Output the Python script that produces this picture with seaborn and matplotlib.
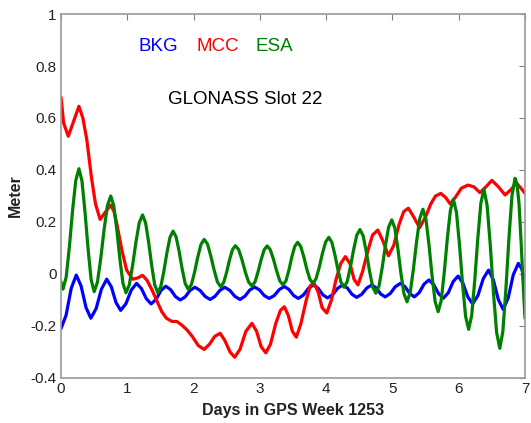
import numpy as np
import pandas as pd
import matplotlib
matplotlib.use("Agg")
import matplotlib.pyplot as plt
import seaborn as sns

# values (days, meters)
bkg_days = [0.00, 0.077, 0.153, 0.23, 0.303, 0.377, 0.45, 0.53, 0.61, 0.69, 0.76, 0.83, 0.90,
            0.98, 1.06, 1.14, 1.213, 1.287, 1.36, 1.433, 1.507, 1.58, 1.653, 1.727, 1.80,
            1.873, 1.947, 2.02, 2.097, 2.173, 2.25, 2.323, 2.397, 2.47, 2.547, 2.623, 2.70,
            2.773, 2.847, 2.92, 2.993, 3.067, 3.14, 3.217, 3.293, 3.37, 3.44, 3.51, 3.58,
            3.657, 3.733, 3.81, 3.88, 3.95, 4.02, 4.097, 4.173, 4.25, 4.32, 4.39, 4.46,
            4.537, 4.613, 4.69, 4.757, 4.823, 4.89, 4.967, 5.043, 5.12, 5.19, 5.26, 5.33,
            5.403, 5.477, 5.55, 5.623, 5.697, 5.77, 5.843, 5.917, 5.99, 6.063, 6.137, 6.21,
            6.29, 6.37, 6.45, 6.523, 6.597, 6.67, 6.747, 6.823, 6.90, 6.95, 7.00]
bkg_vals = [-0.21, -0.158, -0.056, -0.004, -0.046, -0.129, -0.17, -0.133, -0.058, -0.02, -0.05, -0.11, -0.14,
            -0.114, -0.062, -0.036, -0.056, -0.095, -0.115, -0.098, -0.064, -0.047, -0.06, -0.087, -0.10,
            -0.088, -0.063, -0.051, -0.063, -0.086, -0.098, -0.086, -0.063, -0.051, -0.063, -0.086, -0.098,
            -0.086, -0.062, -0.05, -0.061, -0.083, -0.094, -0.083, -0.06, -0.048, -0.06, -0.083, -0.094,
            -0.081, -0.055, -0.042, -0.055, -0.08, -0.092, -0.08, -0.055, -0.042, -0.054, -0.078, -0.09,
            -0.078, -0.054, -0.042, -0.054, -0.077, -0.088, -0.075, -0.049, -0.036, -0.049, -0.075, -0.088,
            -0.072, -0.039, -0.023, -0.041, -0.076, -0.093, -0.072, -0.029, -0.008, -0.035, -0.088, -0.115,
            -0.083, -0.018, 0.015, -0.023, -0.098, -0.136, -0.092, -0.003, 0.041, 0.02, -0.03]

mcc_days = [0.00, 0.04, 0.11, 0.18, 0.27, 0.33, 0.39, 0.46, 0.52, 0.59, 0.66, 0.75, 0.80, 0.84,
            0.92, 0.99, 1.08, 1.16, 1.23, 1.30, 1.37, 1.44, 1.52, 1.59, 1.67, 1.75, 1.83, 1.90,
            1.98, 2.07, 2.16, 2.24, 2.32, 2.40, 2.47, 2.55, 2.62, 2.70, 2.79, 2.88, 2.95, 3.02,
            3.09, 3.16, 3.24, 3.31, 3.37, 3.43, 3.49, 3.55, 3.62, 3.70, 3.76, 3.82, 3.88, 3.94,
            4.01, 4.08, 4.15, 4.22, 4.29, 4.36, 4.42, 4.48, 4.55, 4.63, 4.70, 4.78, 4.86, 4.94,
            5.02, 5.10, 5.17, 5.24, 5.32, 5.41, 5.50, 5.58, 5.65, 5.73, 5.80, 5.87, 5.95, 6.04,
            6.14, 6.23, 6.32, 6.41, 6.50, 6.60, 6.70, 6.79, 6.87, 6.94, 7.00]
mcc_vals = [0.68, 0.58, 0.53, 0.58, 0.645, 0.60, 0.515, 0.37, 0.27, 0.21, 0.235, 0.265, 0.24, 0.195,
            0.09, 0.015, -0.02, -0.015, -0.005, -0.025, -0.06, -0.10, -0.145, -0.17, -0.182, -0.183, -0.198, -0.215,
            -0.24, -0.275, -0.29, -0.27, -0.24, -0.228, -0.255, -0.30, -0.32, -0.29, -0.22, -0.19, -0.22, -0.28,
            -0.303, -0.27, -0.19, -0.14, -0.126, -0.16, -0.22, -0.243, -0.19, -0.10, -0.045, -0.036, -0.07, -0.13,
            -0.15, -0.10, -0.02, 0.04, 0.067, 0.04, -0.02, -0.042, 0.01, 0.09, 0.15, 0.169, 0.125, 0.07,
            0.11, 0.19, 0.24, 0.253, 0.22, 0.178, 0.22, 0.27, 0.30, 0.31, 0.295, 0.27, 0.295, 0.33,
            0.342, 0.335, 0.313, 0.335, 0.36, 0.335, 0.304, 0.325, 0.35, 0.33, 0.31]

esa_days = [0.00, 0.015, 0.03, 0.078, 0.126, 0.174, 0.222, 0.27, 0.316, 0.362, 0.408, 0.454, 0.50,
            0.55, 0.60, 0.65, 0.70, 0.75, 0.796, 0.842, 0.888, 0.934, 0.98,
            1.03, 1.08, 1.13, 1.18, 1.23, 1.276, 1.322, 1.368, 1.414, 1.46,
            1.506, 1.552, 1.598, 1.644, 1.69, 1.736, 1.782, 1.828, 1.874, 1.92,
            1.968, 2.016, 2.064, 2.112, 2.16, 2.21, 2.26, 2.31, 2.36, 2.41,
            2.454, 2.498, 2.542, 2.586, 2.63, 2.68, 2.73, 2.78, 2.83, 2.88,
            2.926, 2.972, 3.018, 3.064, 3.11, 3.158, 3.206, 3.254, 3.302, 3.35,
            3.394, 3.438, 3.482, 3.526, 3.57, 3.616, 3.662, 3.708, 3.754, 3.80,
            3.848, 3.896, 3.944, 3.992, 4.04, 4.086, 4.132, 4.178, 4.224, 4.27,
            4.318, 4.366, 4.414, 4.462, 4.51, 4.558, 4.606, 4.654, 4.702, 4.75,
            4.798, 4.846, 4.894, 4.942, 4.99, 5.036, 5.082, 5.128, 5.174, 5.22,
            5.268, 5.316, 5.364, 5.412, 5.46, 5.506, 5.552, 5.598, 5.644, 5.69,
            5.736, 5.782, 5.828, 5.874, 5.92, 5.966, 6.012, 6.058, 6.104, 6.15,
            6.196, 6.242, 6.288, 6.334, 6.38, 6.428, 6.476, 6.524, 6.572, 6.62,
            6.666, 6.712, 6.758, 6.804, 6.85, 6.88, 6.91, 6.94, 6.97, 7.00]
esa_vals = [-0.03, -0.052, -0.058, -0.012, 0.104, 0.243, 0.359, 0.405, 0.358, 0.239, 0.098, -0.021, -0.068,
            -0.031, 0.061, 0.171, 0.263, 0.30, 0.263, 0.170, 0.058, -0.035, -0.072,
            -0.042, 0.033, 0.122, 0.197, 0.227, 0.197, 0.122, 0.033, -0.042, -0.072,
            -0.048, 0.011, 0.082, 0.141, 0.165, 0.143, 0.087, 0.019, -0.037, -0.059,
            -0.040, 0.008, 0.066, 0.114, 0.133, 0.115, 0.069, 0.015, -0.031, -0.049,
            -0.033, 0.006, 0.054, 0.093, 0.109, 0.094, 0.055, 0.008, -0.031, -0.046,
            -0.031, 0.008, 0.054, 0.093, 0.108, 0.093, 0.056, 0.011, -0.027, -0.042,
            -0.026, 0.015, 0.065, 0.106, 0.122, 0.106, 0.067, 0.019, -0.020, -0.036,
            -0.018, 0.026, 0.079, 0.123, 0.141, 0.122, 0.074, 0.016, -0.032, -0.051,
            -0.029, 0.027, 0.093, 0.149, 0.171, 0.147, 0.085, 0.012, -0.050, -0.074,
            -0.046, 0.025, 0.109, 0.180, 0.208, 0.177, 0.098, 0.003, -0.076, -0.107,
            -0.071, 0.018, 0.124, 0.213, 0.249, 0.210, 0.111, -0.007, -0.106, -0.145,
            -0.102, 0.006, 0.136, 0.244, 0.287, 0.237, 0.112, -0.038, -0.163, -0.213,
            -0.159, -0.024, 0.137, 0.272, 0.326, 0.265, 0.112, -0.072, -0.225, -0.286,
            -0.221, -0.057, 0.139, 0.303, 0.368, 0.345, 0.27, 0.13, -0.03, -0.17]

x_ticks = [0, 1, 2, 3, 4, 5, 6, 7]
y_ticks = [-0.4, -0.2, 0, 0.2, 0.4, 0.6, 0.8, 1]
y_ticklabels = ["-0.4", "-0.2", "0", "0.2", "0.4", "0.6", "0.8", "1"]

sns.set_style("white")
plt.rcParams['font.family'] = ['Liberation Sans', 'DejaVu Sans']

fig = plt.figure(figsize=(5.31, 4.23), dpi=100)
ax = fig.add_axes([0.1149, 0.1064, 0.8738, 0.8605])

series = [("BKG", bkg_days, bkg_vals, "#0000ff"),
          ("MCC", mcc_days, mcc_vals, "#ff0000"),
          ("ESA", esa_days, esa_vals, "#008000")]
for name, d, v, c in series:
    df = pd.DataFrame({"day": d, "m": v})
    sns.lineplot(data=df, x="day", y="m", ax=ax, color=c, lw=2.3,
                 estimator=None, sort=False, solid_joinstyle="round")

ax.set_xlim(0, 7)
ax.set_ylim(-0.4, 1)
ax.set_xticks(x_ticks)
ax.set_yticks(y_ticks)
ax.set_yticklabels(y_ticklabels)
ax.tick_params(direction="in", length=4, width=0.8, color="#808080",
               top=True, right=True, labelsize=11, pad=3, labelcolor="#222222")
for s in ax.spines.values():
    s.set_color("#9a9a9a")
    s.set_linewidth(1.2)

ax.set_xlabel("Days in GPS Week 1253", fontsize=11.5, fontweight="bold", labelpad=5, color="#222222")
ax.set_ylabel("Meter", fontsize=11.5, fontweight="bold", labelpad=6, color="#222222")

ax.text(1.17, 0.875, "BKG", color="#0000ff", fontsize=13.5, va="center")
ax.text(2.05, 0.875, "MCC", color="#ff0000", fontsize=13.5, va="center")
ax.text(2.94, 0.875, "ESA", color="#008000", fontsize=13.5, va="center")
ax.text(1.62, 0.67, "GLONASS Slot 22", color="black", fontsize=13.5, va="center")

fig.savefig("out.png", dpi=100)
